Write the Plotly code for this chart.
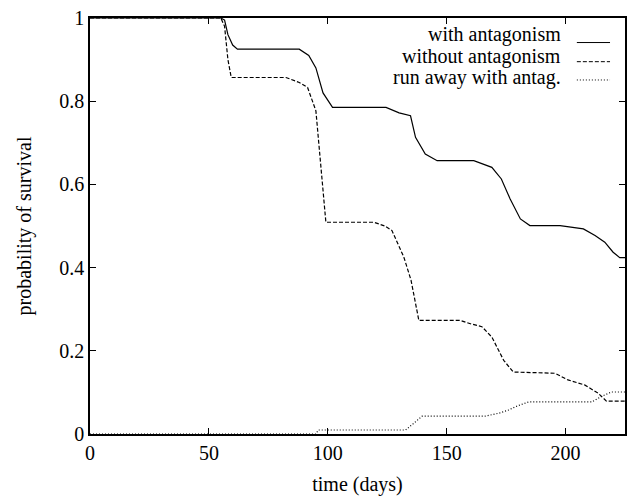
import plotly.graph_objects as go

# with antagonism
t_with = [0, 55, 56.6, 58, 60, 62, 88, 92, 95, 98, 102, 124.5, 130, 134.8, 136.9, 141, 146,
          161.4, 169, 173, 176.7, 181, 185, 197.7, 207.5, 212.4, 216.5, 220, 222.8, 225]
p_with = [1, 1, 0.995, 0.96, 0.935, 0.925, 0.925, 0.91, 0.88, 0.82, 0.785, 0.785, 0.772, 0.765,
          0.713, 0.673, 0.657, 0.657, 0.641, 0.613, 0.565, 0.517, 0.501, 0.501, 0.493, 0.477,
          0.461, 0.437, 0.424, 0.424]

# without antagonism
t_without = [0, 55, 56.6, 58, 59.4, 82.4, 88, 91.5, 95, 96.4, 99.2, 119.4, 124, 127, 132, 135,
             138.3, 155.8, 160, 164.8, 169, 174, 178, 195.6, 201, 208, 213.7, 217.2, 225]
p_without = [1, 1, 0.98, 0.9, 0.857, 0.857, 0.845, 0.833, 0.777, 0.681, 0.509, 0.509, 0.5,
             0.489, 0.425, 0.37, 0.273, 0.273, 0.265, 0.258, 0.233, 0.177, 0.149, 0.146, 0.13,
             0.118, 0.098, 0.079, 0.079]

# run away with antagonism
t_run = [0, 95, 96, 132.7, 136, 139.7, 166.2, 172, 176, 180, 184.4, 211, 215, 219.3, 225]
p_run = [0, 0, 0.0096, 0.0096, 0.025, 0.043, 0.043, 0.05, 0.0576, 0.068, 0.077, 0.077, 0.09,
         0.101, 0.101]

series_names = ["with antagonism", "without antagonism", "run away with antag."]
x_ticks = [0, 50, 100, 150, 200]
y_ticks = [0, 0.2, 0.4, 0.6, 0.8, 1]
y_tick_labels = ["0", "0.2", "0.4", "0.6", "0.8", "1"]

FONT = "Liberation Serif"
dashes = ["solid", "4px,2px", "1px,2px"]

fig = go.Figure()
for (tx, py, nm, ds) in [(t_with, p_with, series_names[0], dashes[0]),
                         (t_without, p_without, series_names[1], dashes[1]),
                         (t_run, p_run, series_names[2], dashes[2])]:
    fig.add_trace(go.Scatter(x=tx, y=py, mode="lines", name=nm,
                             line=dict(color="black", width=1.2, dash=ds),
                             showlegend=False))

# legend drawn as right-aligned text with sample lines to the right
legend_text_y = [0.960, 0.907, 0.856]
legend_line_y = [0.941, 0.895, 0.851]
for nm, ty, ly, ds in zip(series_names, legend_text_y, legend_line_y, dashes):
    fig.add_annotation(x=0.884, y=ty, xref="paper", yref="paper", text=nm,
                       showarrow=False, xanchor="right", yanchor="middle",
                       font=dict(family=FONT, size=20, color="black"))
    fig.add_shape(type="line", xref="paper", yref="paper", x0=0.910, x1=0.972,
                  y0=ly, y1=ly, line=dict(color="black", width=1, dash=ds))

axis_common = dict(showline=True, linecolor="black", linewidth=1.5, mirror="ticks",
                   ticks="inside", ticklen=6, tickwidth=1.2, tickcolor="black",
                   showgrid=False, zeroline=False,
                   tickfont=dict(family=FONT, size=20, color="black"))

fig.update_layout(
    width=634, height=500,
    margin=dict(l=90, r=7, t=17, b=66),
    plot_bgcolor="white", paper_bgcolor="white",
    xaxis=dict(range=[0, 225], tickvals=x_ticks,
               title=dict(text="time (days)", font=dict(family=FONT, size=20, color="black"),
                          standoff=14),
               **axis_common),
    yaxis=dict(range=[0, 1], tickvals=y_ticks, ticktext=y_tick_labels,
               title=dict(text="probability of survival",
                          font=dict(family=FONT, size=20, color="black"), standoff=22),
               **axis_common),
)

fig.write_html("out.html")
